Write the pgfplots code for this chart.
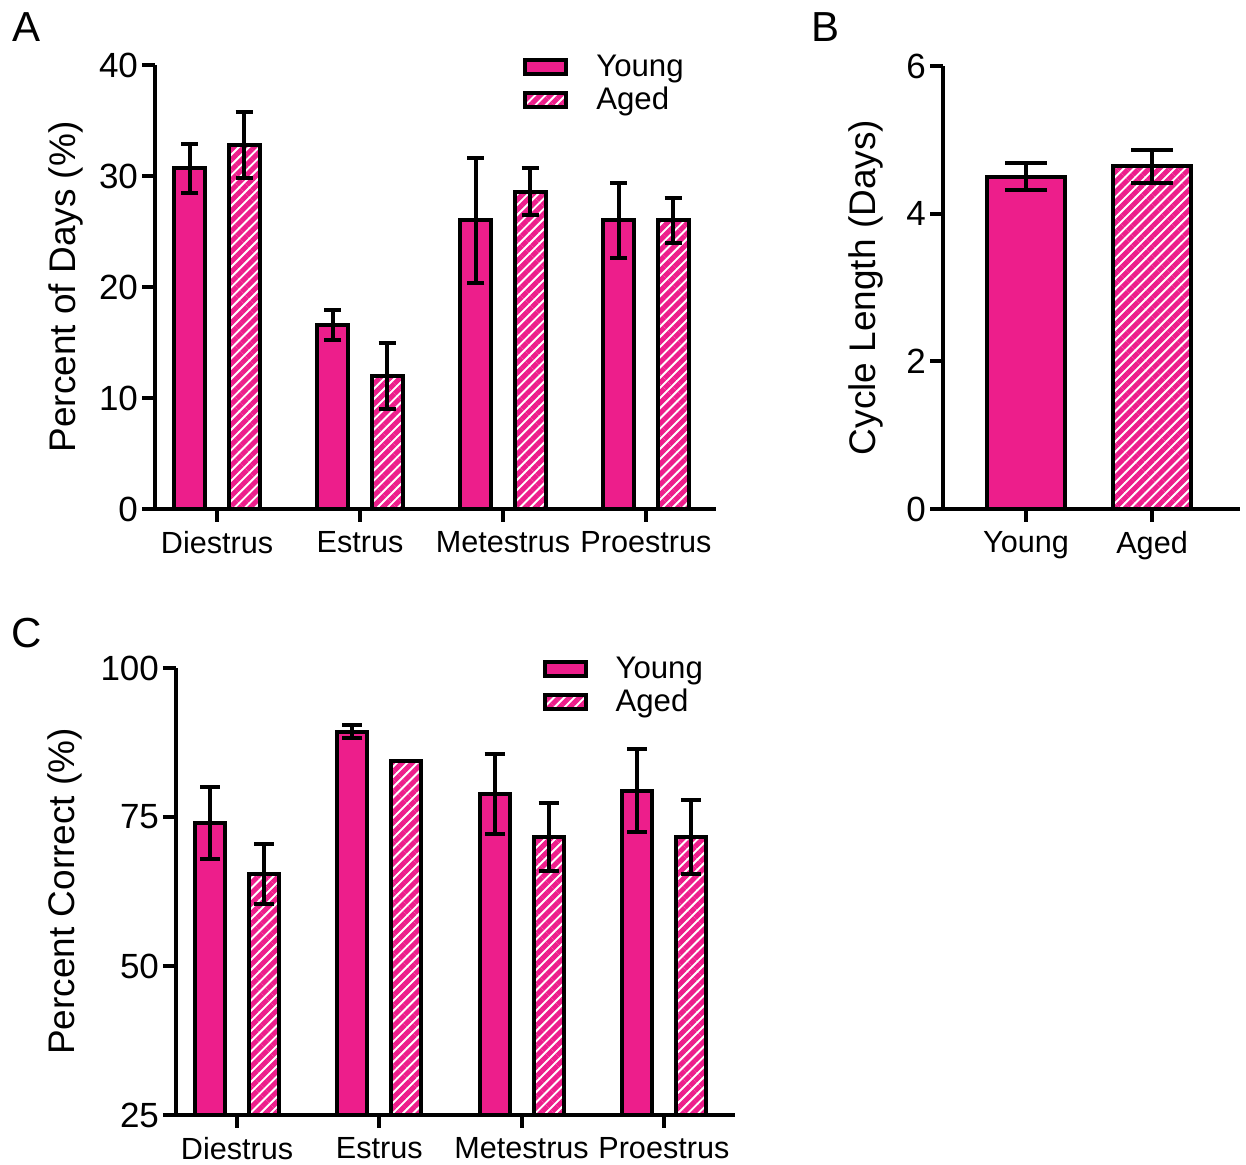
\documentclass[border=0pt]{standalone}
\usepackage{pgfplots}
\pgfplotsset{compat=1.18}
\usepackage{fontspec}
\setmainfont{Liberation Sans}
\usetikzlibrary{patterns.meta}
\definecolor{mypink}{RGB}{237,30,139}
\pgfplotsset{
  prism/.style={
    scale only axis,
    axis x line*=bottom, axis y line*=left,
    axis line style={line width=2pt, black, -},
    tick align=outside,
    major tick length=6.5pt,
    tick style={line width=2pt, black},
    /pgf/number format/assume math mode=true,
    yticklabel style={font=\fontsize{17.5}{20}\selectfont, xshift=1.5pt},
    xticklabel style={font=\fontsize{15.3}{18}\selectfont, yshift=-1.2pt},
    label style={font=\fontsize{18.5}{22}\selectfont},
    legend cell align=left,
    legend style={draw=none, fill=none, anchor=north west,
      font=\fontsize{15.6}{18}\selectfont, row sep=2pt, column sep=14pt,
      nodes={inner sep=0pt, text height=12pt, text depth=2.5pt}},
  },
  young/.style={ybar, bar shift=0pt, fill=mypink, draw=black, line width=2pt,
    legend image code/.code={\draw[##1] (0pt,-3.5pt) rectangle (20.5pt,3.5pt);}},
  aged/.style={ybar, bar shift=0pt, draw=black, line width=2pt,
    pattern={Lines[angle=45,distance=3.6pt,line width=2.5pt]}, pattern color=mypink,
    legend image code/.code={\draw[##1] (0pt,-3.5pt) rectangle (20.5pt,3.5pt);}},
  errs/.style={draw=none, mark=none, forget plot,
    error bars/.cd, y dir=both, y explicit,
    error bar style={line width=2pt, draw=black, solid},
    error mark options={rotate=90, line width=2pt, draw=black, mark size=#1}},
}
\begin{document}
\begin{tikzpicture}
\path[use as bounding box] (0,0) rectangle (623pt,582.5pt);
\node[font=\fontsize{21}{24}\selectfont] at (13.5pt,569pt) {A};
\node[font=\fontsize{21}{24}\selectfont] at (412.5pt,569pt) {B};
\node[font=\fontsize{21}{24}\selectfont] at (13.5pt,266pt) {C};

% Panel A
\begin{axis}[prism, at={(77.5pt,328pt)}, anchor=south west,
  width=280.5pt, height=222pt,
  xmin=-0.434, xmax=3.49, ymin=0, ymax=40,
  ytick={0,10,20,30,40},
  xtick={0,1,2,3}, xticklabels={Diestrus,Estrus,Metestrus,Proestrus},
  ylabel={Percent of Days (\%)},
  ylabel style={at={(axis description cs:-0.159,0.5)}, anchor=center},
  legend style={at={(axis description cs:0.654,1.0225)}, xshift=-2.5pt, yshift=3.5pt},
]
\addplot[young, bar width=15.5pt] coordinates {(-0.19,30.7) (0.81,16.6) (1.81,26.0) (2.81,26.0)};
\addlegendentry{Young}
\addplot[aged, bar width=15.5pt] coordinates {(0.19,32.8) (1.19,12.0) (2.19,28.6) (3.19,26.0)};
\addlegendentry{Aged}
\addplot[errs=4.25pt] coordinates {(-0.19,30.7) +- (0,2.2) (0.81,16.6) +- (0,1.35) (1.81,26.0) +- (0,5.6) (2.81,26.0) +- (0,3.35)};
\addplot[errs=4.25pt] coordinates {(0.19,32.8) +- (0,3.0) (1.19,12.0) +- (0,2.95) (2.19,28.6) +- (0,2.1) (3.19,26.0) +- (0,2.0)};
\end{axis}

% Panel B
\begin{axis}[prism, at={(471.5pt,328pt)}, anchor=south west,
  width=148.5pt, height=221.5pt,
  xmin=-0.659, xmax=1.698, ymin=0, ymax=6,
  ytick={0,2,4,6},
  xtick={0,1}, xticklabels={Young,Aged},
  ylabel={Cycle Length (Days)},
  ylabel style={at={(axis description cs:-0.259,0.5)}, anchor=center},
]
\addplot[young, bar width=39pt] coordinates {(0,4.50)};
\addplot[aged, bar width=39pt] coordinates {(1,4.64)};
\addplot[errs=10.5pt] coordinates {(0,4.50) +- (0,0.18) (1,4.64) +- (0,0.22)};
\end{axis}

% Panel C
\begin{axis}[prism, at={(88pt,25pt)}, anchor=south west,
  width=279.5pt, height=223.5pt,
  xmin=-0.429, xmax=3.5, ymin=25, ymax=100,
  ytick={25,50,75,100},
  xtick={0,1,2,3}, xticklabels={Diestrus,Estrus,Metestrus,Proestrus},
  ylabel={Percent Correct (\%)},
  ylabel style={at={(axis description cs:-0.199,0.5)}, anchor=center},
  legend style={at={(axis description cs:0.655,1.022)}, xshift=-3pt, yshift=4pt},
]
\addplot[young, bar width=15pt] coordinates {(-0.19,74.0) (0.81,89.3) (1.81,78.9) (2.81,79.4)};
\addlegendentry{Young}
\addplot[aged, bar width=15pt] coordinates {(0.19,65.4) (1.19,84.4) (2.19,71.6) (3.19,71.6)};
\addlegendentry{Aged}
\addplot[errs=5pt] coordinates {(-0.19,74.0) +- (0,6.1) (0.81,89.3) +- (0,1.1) (1.81,78.9) +- (0,6.7) (2.81,79.4) +- (0,7.0)};
\addplot[errs=5pt] coordinates {(0.19,65.4) +- (0,5.0) (2.19,71.6) +- (0,5.7) (3.19,71.6) +- (0,6.2)};
\end{axis}
\end{tikzpicture}
\end{document}
